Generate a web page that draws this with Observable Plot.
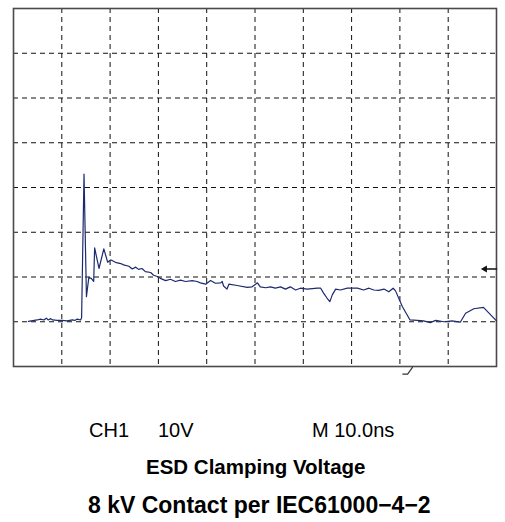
<!DOCTYPE html>
<html>
<head>
<meta charset="utf-8">
<script src="https://cdn.jsdelivr.net/npm/d3@7"></script>
<script src="https://cdn.jsdelivr.net/npm/@observablehq/plot@0.6"></script>
<style>
  html, body { margin: 0; padding: 0; background: #fff; }
  #chart svg { display: block; }
</style>
</head>
<body>
<div id="chart"></div>
<script>
// Time in ns (10 ns/div), voltage in V (10 V/div)
const times = [3.1, 4.9, 5.6, 6.3, 6.8, 7.2, 7.7, 8.1, 9.0, 10.1, 11.1, 12.2, 12.7, 13.2, 13.9, 14.1,
  14.6, 15.1, 15.6, 16.1, 16.6, 16.8, 17.7, 18.7, 19.5, 20.1, 20.4, 21.3, 22.2, 22.8, 23.9, 24.6,
  25.3, 25.9, 26.6, 27.3, 28.4, 29.0, 29.8, 30.4, 31.5, 32.5, 33.5, 34.6, 35.6, 37.0, 38.0, 38.7,
  39.8, 40.8, 41.8, 42.9, 43.2, 43.5, 44.2, 44.6, 46.3, 48.4, 49.4, 50.5, 51.1, 52.2, 53.2, 54.2,
  55.3, 56.3, 57.3, 58.4, 59.4, 60.8, 62.9, 63.6, 64.2, 64.9, 65.5, 66.0, 66.7, 67.7, 69.1, 71.2,
  72.5, 73.6, 74.6, 75.6, 76.7, 77.7, 78.6, 79.1, 80.5, 82.1, 83.6, 84.9, 86.3, 87.4, 89.1, 90.8,
  92.5, 93.6, 95.3, 97.3, 100];
const volts = [0.1, 0.4, 0.6, 0.4, 0.8, 0.4, 0.7, 0.4, 0.3, 0.3, 0.2, 0.4, 0.3, 0.6, 0.4, 0.9,
  33.0, 5.6, 9.9, 9.7, 9.0, 16.5, 11.9, 16.3, 13.3, 13.8, 13.7, 13.2, 13.0, 12.7, 12.4, 11.8,
  12.2, 11.7, 11.9, 11.2, 11.0, 10.4, 10.1, 9.7, 9.2, 9.5, 9.0, 9.3, 9.0, 9.2, 9.0, 8.7,
  8.4, 9.2, 8.6, 8.7, 9.0, 8.0, 7.3, 8.4, 8.1, 7.7, 7.8, 8.7, 7.8, 7.6, 7.8, 7.5,
  7.8, 7.3, 7.8, 7.1, 7.5, 7.3, 7.5, 7.5, 6.4, 5.3, 4.5, 6.0, 7.3, 7.1, 7.5, 7.5,
  7.1, 7.5, 7.1, 7.0, 7.3, 6.7, 7.5, 6.9, 3.4, 0.4, 0.3, 0.2, -0.2, 0.3, 0.0, 0.2,
  -0.1, 1.9, 2.9, 3.2, 0.2];

// Graticule (10 horizontal x 8 vertical divisions)
const timeGrid = [10, 20, 30, 40, 50, 60, 70, 80, 90];
const voltGrid = [0, 10, 20, 30, 40, 50, 60];
const timeDomain = [0, 100];
const voltDomain = [-10, 70];

// Trigger level marker (right edge) and trigger position marker (below screen)
const triggerLevel = 11.8;
const triggerArrowT = [97.6, 100];
const triggerEdgeT = [80.6, 81.6, 82.6];
const triggerEdgeV = [-11.7, -11.7, -10.2];

// Text
const channelLabel = "CH1";
const scaleLabel = "10V";
const timebaseLabel = "M 10.0ns";
const subtitleText = "ESD Clamping Voltage";
const titleText = "8 kV Contact per IEC61000\u22124\u22122";

const trace = times.map((t, i) => ({t, v: volts[i]}));
const edge = triggerEdgeT.map((t, i) => ({t, v: triggerEdgeV[i]}));
const arrowTail = triggerArrowT.map(t => ({t, v: triggerLevel}));

const plot = Plot.plot({
  width: 505,
  height: 375,
  marginLeft: 13,
  marginRight: 9,
  marginTop: 8,
  marginBottom: 9,
  x: {domain: timeDomain, axis: null},
  y: {domain: voltDomain, axis: null},
  marks: [
    Plot.ruleX(timeGrid, {x: d => d, stroke: "#111", strokeWidth: 1, strokeDasharray: "5,4"}),
    Plot.ruleY(voltGrid, {y: d => d, stroke: "#111", strokeWidth: 1, strokeDasharray: "5,4"}),
    Plot.frame({stroke: "#4a4a4a", strokeWidth: 1.6}),
    Plot.line(trace, {x: "t", y: "v", stroke: "#1c2a6e", strokeWidth: 1.2}),
    Plot.line(arrowTail, {x: "t", y: "v", stroke: "#111", strokeWidth: 1.5}),
    Plot.dot([arrowTail[0]], {x: "t", y: "v", symbol: "triangle", r: 2.6, fill: "#111", stroke: "none", rotate: -90}),
    Plot.line(edge, {x: "t", y: "v", stroke: "#333", strokeWidth: 1.2})
  ]
});
document.getElementById("chart").appendChild(plot);

// Caption below the screen
const cap = d3.select("body").append("svg")
  .attr("width", 505).attr("height", 147)
  .style("display", "block")
  .attr("font-family", "'Liberation Sans', Arial, Helvetica, sans-serif");
const capLines = [
  {text: channelLabel, x: 89, y: 62, size: 20, weight: "normal"},
  {text: scaleLabel, x: 158, y: 62, size: 20, weight: "normal"},
  {text: timebaseLabel, x: 312, y: 62, size: 20, weight: "normal"},
  {text: subtitleText, x: 146, y: 99, size: 20.5, weight: "bold"},
  {text: titleText, x: 88, y: 138, size: 23, weight: "bold"}
];
cap.selectAll("text").data(capLines).join("text")
  .attr("x", d => d.x).attr("y", d => d.y)
  .attr("font-size", d => d.size).attr("font-weight", d => d.weight)
  .attr("fill", "#000")
  .text(d => d.text);
</script>
</body>
</html>
